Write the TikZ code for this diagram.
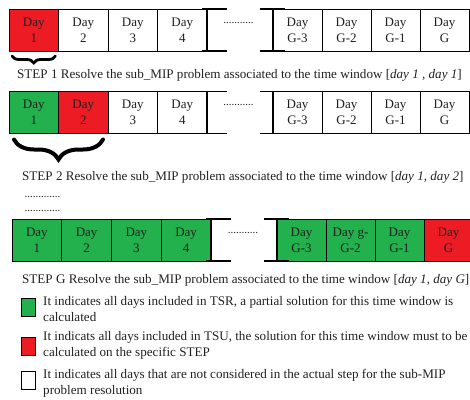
\documentclass[tikz,border=0pt]{standalone}
\usepackage{fontspec}
\setmainfont{Liberation Serif}
\usetikzlibrary{decorations.pathreplacing}
\definecolor{tsrgreen}{HTML}{22B14C}
\definecolor{tsured}{HTML}{ED1C24}
\definecolor{ink}{HTML}{231F20}
\begin{document}
\begin{tikzpicture}[x=1pt,y=-1pt,
  daybox/.style={draw=black,line width=0.9pt,minimum height=42pt,inner sep=0pt,
    outer sep=0pt,align=center,text=ink,font=\fontsize{13}{16}\selectfont},
  bracketline/.style={draw=black,line width=1.6pt},
  dotrow/.style={inner sep=0pt,text=ink,font=\fontsize{11}{11}\selectfont},
  steptext/.style={anchor=west,inner sep=0pt,text=ink,font=\fontsize{13.1}{15}\selectfont},
  legendbox/.style={draw=black,line width=1.4pt,minimum width=14pt,minimum height=18pt,inner sep=0pt},
  legendtext/.style={anchor=west,inner sep=0pt,align=left,text=ink,font=\fontsize{13.1}{16}\selectfont},
  bigbrace/.style={draw=black,decorate,decoration={brace,amplitude=#1},line cap=round}
]
\useasboundingbox (0,0) rectangle (470,399);

% ---------- STEP 1 ----------
\foreach \i/\lab/\col in {1/1/tsured,2/2/white,3/3/white,4/4/white}
  \node[daybox,fill=\col,minimum width=49.5pt] (r1l\i) at ({9+49.5*(\i-0.5)},30) {Day\\\lab};
\foreach \i/\lab/\col in {1/G-3/white,2/G-2/white,3/G-1/white,4/G/white}
  \node[daybox,fill=\col,minimum width=49pt] (r1r\i) at ({273+49*(\i-0.5)},30) {Day\\\lab};
\draw[bracketline] ([xshift=-5pt]r1l4.north east) -- ([xshift=20pt]r1l4.north east);
\draw[bracketline] ([xshift=-5pt]r1l4.south east) -- ([xshift=20pt]r1l4.south east);
\draw[bracketline] (r1l4.north east) -- (r1l4.south east);
\draw[bracketline] ([xshift=-13pt]r1r1.north west) -- ([xshift=12pt]r1r1.north west);
\draw[bracketline] ([xshift=-13pt]r1r1.south west) -- ([xshift=12pt]r1r1.south west);
\draw[bracketline] (r1r1.north west) -- (r1r1.south west);
\node[dotrow] (r1dots) at (238.5,23) {...........};
\draw[bigbrace=7pt,line width=2.8pt] ([xshift=-3pt,yshift=-5pt]r1l1.south east) -- ([xshift=3pt,yshift=-5pt]r1l1.south west);
\node[steptext] (step1) at (17,75) {STEP 1 Resolve the sub\_MIP problem associated to the time window [\textit{day 1 , day 1}]};

% ---------- STEP 2 ----------
\foreach \i/\lab/\col in {1/1/tsrgreen,2/2/tsured,3/3/white,4/4/white}
  \node[daybox,fill=\col,minimum width=49.5pt] (r2l\i) at ({9+49.5*(\i-0.5)},112.5) {Day\\\lab};
\foreach \i/\lab/\col in {1/G-3/white,2/G-2/white,3/G-1/white,4/G/white}
  \node[daybox,fill=\col,minimum width=49pt] (r2r\i) at ({273+49*(\i-0.5)},112.5) {Day\\\lab};
\draw[bracketline] ([xshift=-5pt]r2l4.north east) -- ([xshift=20pt]r2l4.north east);
\draw[bracketline] ([xshift=-5pt]r2l4.south east) -- ([xshift=20pt]r2l4.south east);
\draw[bracketline] (r2l4.north east) -- (r2l4.south east);
\draw[bracketline] ([xshift=-13pt]r2r1.north west) -- ([xshift=12pt]r2r1.north west);
\draw[bracketline] ([xshift=-13pt]r2r1.south west) -- ([xshift=12pt]r2r1.south west);
\draw[bracketline] (r2r1.north west) -- (r2r1.south west);
\node[dotrow] (r2dots) at (238.5,105) {...........};
\draw[bigbrace=20pt,line width=4pt] ([xshift=-5pt,yshift=-6pt]r2l2.south east) -- ([xshift=5pt,yshift=-6pt]r2l1.south west);
\node[steptext] (step2) at (22,177) {STEP 2 Resolve the sub\_MIP problem associated to the time window [\textit{day 1, day 2}]};

\node[dotrow] (gap1) at (42.5,197) {.............};
\node[dotrow] (gap2) at (42.5,211) {.............};

% ---------- STEP G ----------
\foreach \i/\lab/\col in {1/1/tsrgreen,2/2/tsrgreen,3/3/tsrgreen,4/4/tsrgreen}
  \node[daybox,fill=\col,minimum width=49.75pt] (r3l\i) at ({12+49.75*(\i-0.5)},240) {Day\\\lab};
\foreach \i/\lab/\col in {1/Day\\G-3/tsrgreen,2/Day g-\\G-2/tsrgreen,3/Day\\G-1/tsrgreen,4/Day\\G/tsured}
  \node[daybox,fill=\col,minimum width=49pt] (r3r\i) at ({277+49*(\i-0.5)},240) {\lab};
\draw[bracketline] ([xshift=-5pt]r3l4.north east) -- ([xshift=20pt]r3l4.north east);
\draw[bracketline] ([xshift=-5pt]r3l4.south east) -- ([xshift=20pt]r3l4.south east);
\draw[bracketline] (r3l4.north east) -- (r3l4.south east);
\draw[bracketline] ([xshift=-13pt]r3r1.north west) -- ([xshift=12pt]r3r1.north west);
\draw[bracketline] ([xshift=-13pt]r3r1.south west) -- ([xshift=12pt]r3r1.south west);
\draw[bracketline] (r3r1.north west) -- (r3r1.south west);
\node[dotrow] (r3dots) at (243,233) {...........};
\node[steptext] (stepG) at (22,280) {STEP G Resolve the sub\_MIP problem associated to the time window [\textit{day 1, day G}]};

% ---------- legend ----------
\node[legendbox,fill=tsrgreen] (keytsr) at (28.5,307.5) {};
\node[legendtext] (keytsrtext) at (43,308.5) {It indicates all days included in TSR, a partial solution for this time window is\\calculated};
\node[legendbox,fill=tsured] (keytsu) at (28.5,346.5) {};
\node[legendtext] (keytsutext) at (43,345.5) {It indicats all days included in TSU, the solution for this time window must to be\\calculated on the specific STEP};
\node[legendbox,fill=white] (keyfree) at (28.5,380.5) {};
\node[legendtext] (keyfreetext) at (43,383) {It indicates all days that are not considered in the actual step for the sub-MIP\\problem resolution};
\end{tikzpicture}
\end{document}
